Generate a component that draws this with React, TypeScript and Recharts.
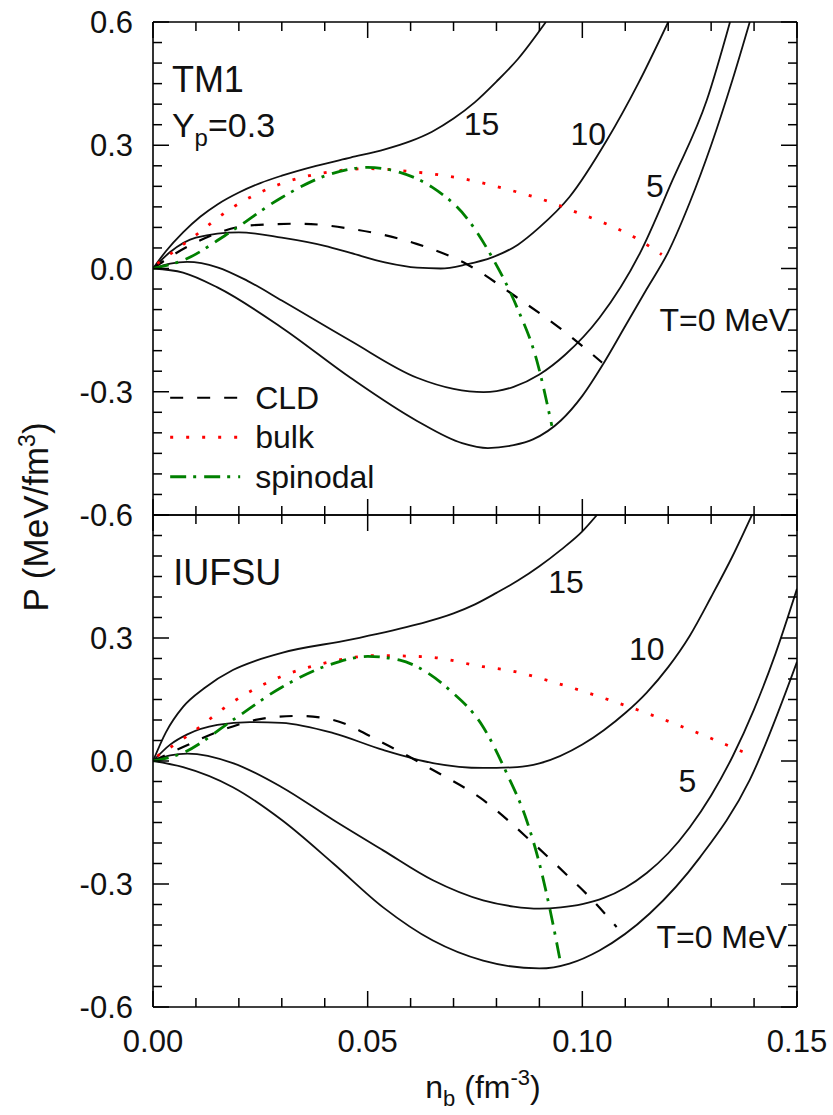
import React from 'react';
import { LineChart, Line, XAxis, YAxis, ReferenceDot } from 'recharts';

type Pt = [number, number];

// axis ticks
const xTicks = [0, 0.01, 0.02, 0.03, 0.04, 0.05, 0.06, 0.07, 0.08, 0.09, 0.1, 0.11, 0.12, 0.13, 0.14, 0.15];
const xMajor = [0, 0.05, 0.1, 0.15];
const xLabels = ['0.00', '0.05', '0.10', '0.15'];
const yTicks = [
  -0.6, -0.55, -0.5, -0.45, -0.4, -0.35, -0.3, -0.25, -0.2, -0.15, -0.1, -0.05, 0,
  0.05, 0.1, 0.15, 0.2, 0.25, 0.3, 0.35, 0.4, 0.45, 0.5, 0.55, 0.6,
];
const yMajor = [-0.6, -0.3, 0, 0.3, 0.6];
const yLabels = ['-0.6', '-0.3', '0.0', '0.3', '0.6'];

// TM1 (upper panel), [n_b, P]
const tm1T0: Pt[] = [
  [0, 0], [0.007, -0.01], [0.015, -0.046], [0.03, -0.144], [0.046, -0.266], [0.0615, -0.371],
  [0.072, -0.425], [0.078, -0.437], [0.084, -0.43], [0.0885, -0.416], [0.095, -0.37], [0.1, -0.31],
  [0.105, -0.23], [0.11, -0.14], [0.115, -0.05], [0.12, 0.04], [0.125, 0.16], [0.13, 0.3],
  [0.135, 0.46], [0.139, 0.6],
];
const tm1T5: Pt[] = [
  [0, 0], [0.004, 0.012], [0.008, 0.016], [0.015, 0.003], [0.022, -0.03], [0.03, -0.078],
  [0.046, -0.176], [0.0615, -0.266], [0.07, -0.293], [0.077, -0.301], [0.084, -0.288],
  [0.09, -0.258], [0.096, -0.21], [0.104, -0.12], [0.1134, 0.037], [0.121, 0.215],
  [0.129, 0.41], [0.1344, 0.6],
];
const tm1T10: Pt[] = [
  [0, 0], [0.004, 0.04], [0.01, 0.075], [0.02, 0.088], [0.03, 0.075], [0.04, 0.055],
  [0.046, 0.038], [0.054, 0.015], [0.0615, 0.002], [0.067, 0.0], [0.073, 0.01], [0.079, 0.027],
  [0.085, 0.058], [0.09, 0.1], [0.097, 0.174], [0.1057, 0.312], [0.113, 0.45], [0.12, 0.6],
];
const tm1T15: Pt[] = [
  [0, 0], [0.003, 0.042], [0.007, 0.088], [0.011, 0.126], [0.015, 0.156], [0.02, 0.185],
  [0.025, 0.208], [0.03, 0.226], [0.038, 0.25], [0.046, 0.27], [0.054, 0.29], [0.06, 0.31],
  [0.065, 0.333], [0.07, 0.365], [0.075, 0.405], [0.08, 0.455], [0.085, 0.51], [0.0915, 0.6],
];
const tm1Cld: Pt[] = [
  [0, 0], [0.005, 0.035], [0.0109, 0.068], [0.0226, 0.105], [0.0342, 0.109], [0.0459, 0.097],
  [0.0614, 0.06], [0.073, 0.011], [0.0847, -0.07], [0.0955, -0.151], [0.1046, -0.229],
];
const tm1Bulk: Pt[] = [
  [0.001, 0.012], [0.0093, 0.076], [0.0186, 0.149], [0.03, 0.207], [0.0405, 0.234], [0.05, 0.243],
  [0.06, 0.236], [0.0715, 0.22], [0.0824, 0.193], [0.094, 0.156], [0.0976, 0.141],
  [0.1048, 0.112], [0.1118, 0.078], [0.1185, 0.034],
];
const tm1Spin: Pt[] = [
  [0, 0], [0.007, 0.02], [0.0186, 0.093], [0.03, 0.173], [0.0405, 0.227], [0.05, 0.246],
  [0.0575, 0.234], [0.065, 0.198], [0.073, 0.124], [0.079, 0.027], [0.0848, -0.095],
  [0.0894, -0.224], [0.0929, -0.383],
];

// IUFSU (lower panel)
const iuT0: Pt[] = [
  [0, 0], [0.007, -0.015], [0.0186, -0.064], [0.03, -0.144], [0.042, -0.25], [0.0536, -0.357],
  [0.0652, -0.438], [0.0769, -0.487], [0.09, -0.506], [0.097, -0.494], [0.104, -0.462],
  [0.1157, -0.372], [0.1274, -0.235], [0.139, -0.046], [0.15, 0.242],
];
const iuT5: Pt[] = [
  [0, 0], [0.004, 0.014], [0.008, 0.018], [0.0186, -0.005], [0.03, -0.064], [0.042, -0.144],
  [0.0536, -0.218], [0.0652, -0.291], [0.0769, -0.34], [0.084, -0.355], [0.09, -0.36],
  [0.095, -0.357], [0.1, -0.349], [0.105, -0.334], [0.11, -0.309], [0.115, -0.273],
  [0.12, -0.225], [0.125, -0.162], [0.13, -0.084], [0.135, 0.011], [0.14, 0.126],
  [0.145, 0.262], [0.15, 0.42],
];
const iuT10: Pt[] = [
  [0, 0], [0.004, 0.04], [0.008, 0.065], [0.015, 0.088], [0.0226, 0.095], [0.03, 0.093],
  [0.042, 0.068], [0.0536, 0.027], [0.0652, -0.005], [0.0769, -0.017], [0.0848, -0.015],
  [0.09, -0.006], [0.1, 0.04], [0.105, 0.075], [0.11, 0.117], [0.115, 0.167], [0.12, 0.229],
  [0.125, 0.305], [0.13, 0.4], [0.135, 0.5], [0.1395, 0.6],
];
const iuT15: Pt[] = [
  [0, 0], [0.003, 0.07], [0.007, 0.132], [0.012, 0.178], [0.0186, 0.222], [0.024, 0.245],
  [0.03, 0.264], [0.046, 0.296], [0.0615, 0.333], [0.07, 0.36], [0.075, 0.382], [0.08, 0.41],
  [0.085, 0.44], [0.09, 0.475], [0.095, 0.515], [0.1, 0.56], [0.1034, 0.6],
];
const iuCld: Pt[] = [
  [0, 0], [0.007, 0.034], [0.015, 0.071], [0.0265, 0.105], [0.034, 0.11], [0.042, 0.1],
  [0.0536, 0.044], [0.0652, -0.022], [0.0769, -0.095], [0.0885, -0.2], [0.097, -0.284],
  [0.1018, -0.333], [0.108, -0.405],
];
const iuBulk: Pt[] = [
  [0.001, 0.012], [0.0093, 0.071], [0.0186, 0.144], [0.0296, 0.205], [0.0405, 0.24],
  [0.052, 0.257], [0.0638, 0.254], [0.0769, 0.23], [0.0824, 0.222], [0.094, 0.19],
  [0.1048, 0.154], [0.1162, 0.112], [0.127, 0.068], [0.1379, 0.02],
];
const iuSpin: Pt[] = [
  [0, 0], [0.007, 0.02], [0.0186, 0.1], [0.03, 0.18], [0.0412, 0.235], [0.05, 0.255],
  [0.0575, 0.246], [0.0615, 0.23], [0.069, 0.174], [0.0769, 0.083], [0.0824, -0.03],
  [0.087, -0.144], [0.09, -0.25], [0.0925, -0.364], [0.0948, -0.485],
];

// curve labels: [text, x, y, anchor]
type Note = [string, number, number, 'start' | 'middle' | 'end'];
const tm1Notes: Note[] = [
  ['15', 0.0765, 0.324, 'middle'],
  ['10', 0.1014, 0.3, 'middle'],
  ['5', 0.1169, 0.173, 'middle'],
  ['T=0 MeV', 0.1484, -0.151, 'end'],
];
const iuNotes: Note[] = [
  ['15', 0.0962, 0.41, 'middle'],
  ['10', 0.115, 0.246, 'middle'],
  ['5', 0.1245, -0.0756, 'middle'],
  ['T=0 MeV', 0.1477, -0.456, 'end'],
];

const FONT = '"Liberation Sans", Arial, Helvetica, sans-serif';
const CLD_DASH = '13 14';
const BULK_DASH = '3 13';
const SPIN_DASH = '16 7 3 8';

const toObj = (pts: Pt[]) => pts.map(([x, y]) => ({ x, y }));
const near = (a: number, b: number) => Math.abs(a - b) < 1e-9;

function yTick(side: 'left' | 'right', hide: string[] = []) {
  return (p: any) => {
    const v = p.payload.value;
    const i = yMajor.findIndex((m) => near(m, v));
    const len = i >= 0 ? 16 : 9;
    const dir = side === 'left' ? 1 : -1;
    const label = side === 'left' && i >= 0 ? yLabels[i] : null;
    return (
      <g>
        <line x1={p.x} y1={p.y} x2={p.x + dir * len} y2={p.y} stroke="#000" strokeWidth={1.5} />
        {label && !hide.includes(label) && (
          <text x={p.x - 20} y={p.y + 11} textAnchor="end" fontFamily={FONT} fontSize={31} fill="#111">
            {label}
          </text>
        )}
      </g>
    );
  };
}

function xTick(side: 'top' | 'bottom', showLabels: boolean) {
  return (p: any) => {
    const v = p.payload.value;
    const i = xMajor.findIndex((m) => near(m, v));
    const len = i >= 0 ? 16 : 9;
    const dir = side === 'bottom' ? -1 : 1;
    return (
      <g>
        <line x1={p.x} y1={p.y} x2={p.x} y2={p.y + dir * len} stroke="#000" strokeWidth={1.5} />
        {showLabels && i >= 0 && (
          <text x={p.x} y={p.y + 45} textAnchor="middle" fontFamily={FONT} fontSize={31} fill="#111">
            {xLabels[i]}
          </text>
        )}
      </g>
    );
  };
}

const noteShape = (text: string, anchor: string) => (p: any) => (
  <text x={p.cx} y={p.cy} textAnchor={anchor} fontFamily={FONT} fontSize={32} fill="#111">
    {text}
  </text>
);

const legendShape = (p: any) => {
  const rows: [string, string, string, number][] = [
    ['CLD', '#000', CLD_DASH, 2.2],
    ['bulk', '#ff0000', BULK_DASH, 2.8],
    ['spinodal', '#008000', SPIN_DASH, 2.8],
  ];
  return (
    <g>
      {rows.map(([name, color, dash, w], k) => (
        <g key={name}>
          <line x1={p.cx} x2={p.cx + 70} y1={p.cy + k * 39.5} y2={p.cy + k * 39.5} stroke={color} strokeWidth={w} strokeDasharray={dash} />
          <text x={p.cx + 85} y={p.cy + k * 39.5 + 11} fontFamily={FONT} fontSize={32} fill="#111">
            {name}
          </text>
        </g>
      ))}
    </g>
  );
};

interface PanelProps {
  top: number;
  height: number;
  margin: { top: number; right: number; bottom: number; left: number };
  t0: Pt[];
  t5: Pt[];
  t10: Pt[];
  t15: Pt[];
  cld: Pt[];
  bulk: Pt[];
  spin: Pt[];
  notes: Note[];
  showXLabels: boolean;
  hideY: string[];
  children?: React.ReactNode;
}

const AXIS_LINE = { stroke: '#000', strokeWidth: 1.6 };

function Panel(props: PanelProps) {
  const common = { xAxisId: 'b', yAxisId: 'l', type: 'monotone' as const, dataKey: 'y', dot: false, isAnimationActive: false };
  return (
    <div style={{ position: 'absolute', left: 0, top: props.top }}>
      <LineChart width={833} height={props.height} margin={props.margin}>
        <XAxis
          xAxisId="b"
          type="number"
          dataKey="x"
          domain={[0, 0.15]}
          ticks={xTicks}
          interval={0}
          allowDataOverflow
          height={1}
          tickSize={0}
          tickMargin={0}
          tickLine={false}
          axisLine={AXIS_LINE}
          tick={xTick('bottom', props.showXLabels)}
        />
        <XAxis
          xAxisId="t"
          orientation="top"
          type="number"
          dataKey="x"
          domain={[0, 0.15]}
          ticks={xTicks}
          interval={0}
          allowDataOverflow
          height={1}
          tickSize={0}
          tickMargin={0}
          tickLine={false}
          axisLine={AXIS_LINE}
          tick={xTick('top', false)}
        />
        <YAxis
          yAxisId="l"
          type="number"
          domain={[-0.6, 0.6]}
          ticks={yTicks}
          interval={0}
          allowDataOverflow
          width={1}
          tickSize={0}
          tickMargin={0}
          tickLine={false}
          axisLine={AXIS_LINE}
          tick={yTick('left', props.hideY)}
        />
        <YAxis
          yAxisId="r"
          orientation="right"
          type="number"
          domain={[-0.6, 0.6]}
          ticks={yTicks}
          interval={0}
          allowDataOverflow
          width={1}
          tickSize={0}
          tickMargin={0}
          tickLine={false}
          axisLine={AXIS_LINE}
          tick={yTick('right')}
        />
        <Line {...common} data={toObj(props.t0)} stroke="#111" strokeWidth={1.8} />
        <Line {...common} data={toObj(props.t5)} stroke="#111" strokeWidth={1.8} />
        <Line {...common} data={toObj(props.t10)} stroke="#111" strokeWidth={1.8} />
        <Line {...common} data={toObj(props.t15)} stroke="#111" strokeWidth={1.8} />
        <Line {...common} data={toObj(props.cld)} stroke="#000" strokeWidth={2.2} strokeDasharray={CLD_DASH} />
        <Line {...common} data={toObj(props.bulk)} stroke="#ff0000" strokeWidth={2.8} strokeDasharray={BULK_DASH} />
        <Line {...common} data={toObj(props.spin)} stroke="#008000" strokeWidth={2.8} strokeDasharray={SPIN_DASH} />
        {props.notes.map(([text, x, y, anchor]) => (
          <ReferenceDot key={text} xAxisId="b" yAxisId="l" x={x} y={y} r={1} ifOverflow="visible" shape={noteShape(text, anchor)} />
        ))}
        {props.children}
      </LineChart>
    </div>
  );
}

export default function App() {
  return (
    <div style={{ position: 'absolute', left: 0, top: 0, width: 833, height: 1115, background: '#fff' }}>
      <Panel
        top={0}
        height={560}
        margin={{ top: 21, right: 35, bottom: 44, left: 152 }}
        t0={tm1T0}
        t5={tm1T5}
        t10={tm1T10}
        t15={tm1T15}
        cld={tm1Cld}
        bulk={tm1Bulk}
        spin={tm1Spin}
        notes={tm1Notes}
        showXLabels={false}
        hideY={[]}
      >
        <ReferenceDot
          xAxisId="b"
          yAxisId="l"
          x={0.0044}
          y={0.429}
          r={1}
          ifOverflow="visible"
          shape={(p: any) => (
            <text x={p.cx} y={p.cy} fontFamily={FONT} fontSize={36} fill="#111">
              TM1
            </text>
          )}
        />
        <ReferenceDot
          xAxisId="b"
          yAxisId="l"
          x={0.0044}
          y={0.3195}
          r={1}
          ifOverflow="visible"
          shape={(p: any) => (
            <text x={p.cx} y={p.cy} fontFamily={FONT} fontSize={34} fill="#111">
              <tspan>Y</tspan>
              <tspan fontSize={24} dy={9}>p</tspan>
              <tspan dy={-9}>=0.3</tspan>
            </text>
          )}
        />
        <ReferenceDot xAxisId="b" yAxisId="l" x={0.004} y={-0.3146} r={1} ifOverflow="visible" shape={legendShape} />
      </Panel>
      <Panel
        top={490}
        height={600}
        margin={{ top: 24, right: 35, bottom: 82, left: 152 }}
        t0={iuT0}
        t5={iuT5}
        t10={iuT10}
        t15={iuT15}
        cld={iuCld}
        bulk={iuBulk}
        spin={iuSpin}
        notes={iuNotes}
        showXLabels={true}
        hideY={['0.6']}
      >
        <ReferenceDot
          xAxisId="b"
          yAxisId="l"
          x={0.0047}
          y={0.429}
          r={1}
          ifOverflow="visible"
          shape={(p: any) => (
            <text x={p.cx} y={p.cy} fontFamily={FONT} fontSize={36} fill="#111">
              IUFSU
            </text>
          )}
        />
      </Panel>
      <svg width={833} height={1115} style={{ position: 'absolute', left: 0, top: 0, pointerEvents: 'none' }}>
        <text x={48} y={517} transform="rotate(-90 48 517)" textAnchor="middle" fontFamily={FONT} fontSize={35} fill="#111">
          <tspan>P (MeV/fm</tspan>
          <tspan fontSize={23} dy={-13}>3</tspan>
          <tspan dy={13}>)</tspan>
        </text>
        <text x={483} y={1098} textAnchor="middle" fontFamily={FONT} fontSize={32} fill="#111">
          <tspan>n</tspan>
          <tspan fontSize={22} dy={8}>b</tspan>
          <tspan dy={-8}> (fm</tspan>
          <tspan fontSize={22} dy={-13}>-3</tspan>
          <tspan dy={13}>)</tspan>
        </text>
      </svg>
    </div>
  );
}
